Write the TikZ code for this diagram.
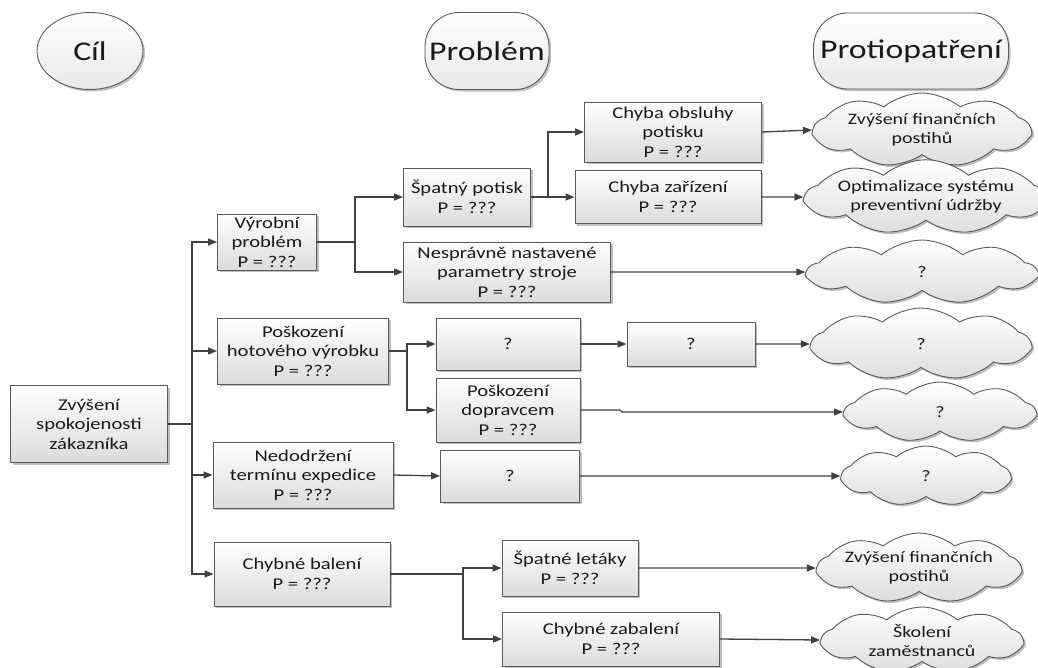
\documentclass[tikz,border=0pt]{standalone}
\usepackage{fontspec}
\setmainfont{Carlito}[FakeStretch=1.25]
\usetikzlibrary{shapes.geometric,shapes.symbols,shadows,arrows.meta}
\definecolor{rim}{HTML}{5A5A5A}
\definecolor{wirec}{HTML}{404040}
\definecolor{ink}{HTML}{1A1A1A}
\tikzset{
  shade/.style={drop shadow={shadow xshift=2pt,shadow yshift=-2pt,opacity=0.25,fill=black}},
  box/.style={draw=rim,line width=0.9pt,top color=white,bottom color=black!14,
    align=center,text=ink,inner sep=1pt,shade,
    font=\fontsize{16.5}{19.5}\selectfont},
  head/.style={draw=rim,line width=0.9pt,top color=white,bottom color=black!9,
    text=ink,inner sep=0pt,shade,font=\fontsize{27}{30}\selectfont},
  bubble/.style={cloud,cloud puffs=9,cloud puff arc=80,cloud ignores aspect,
    draw=rim,line width=0.9pt,top color=white,bottom color=black!13,
    align=center,text=ink,inner sep=0pt,shade,
    font=\fontsize{16}{19}\selectfont},
  wire/.style={draw=wirec,line width=1.3pt},
  arr/.style={wire,-{Triangle[length=9pt,width=7pt]}}
}
\begin{document}
\begin{tikzpicture}[x=1pt,y=-1pt]
\useasboundingbox (0,0) rectangle (1038,667);

% column headings
\node[head,ellipse,minimum width=106,minimum height=77] (hcil) at (90,51) {Cíl};
\node[head,rectangle,rounded corners=34pt,minimum width=124,minimum height=77] (hprob) at (487,51) {Problém};
\node[head,rectangle,rounded corners=34pt,minimum width=195,minimum height=76] (hprot) at (911,51) {Protiopatření};

% goal
\node[box,minimum width=157,minimum height=77] (root) at (89,424) {Zvýšení\\spokojenosti\\zákazníka};

% first level problems
\node[box,minimum width=99,minimum height=56] (vyr) at (267,242) {Výrobní\\problém\\P = ???};
\node[box,minimum width=171,minimum height=66] (pos) at (303,351) {Poškození\\hotového výrobku\\P = ???};
\node[box,minimum width=180,minimum height=66] (ned) at (303,475) {Nedodržení\\termínu expedice\\P = ???};
\node[box,minimum width=176,minimum height=64] (bal) at (302,574) {Chybné balení\\P = ???};

% second level
\node[box,minimum width=127,minimum height=58] (spot) at (467,197) {Špatný potisk\\P = ???};
\node[box,minimum width=207,minimum height=60] (nesp) at (507,272) {Nesprávně nastavené\\parametry stroje\\P = ???};
\node[box,minimum width=144,minimum height=52] (q1) at (508,344) {?};
\node[box,minimum width=144,minimum height=64] (dop) at (508,410) {Poškození\\dopravcem\\P = ???};
\node[box,minimum width=139,minimum height=52] (q3) at (510,476) {?};
\node[box,minimum width=136,minimum height=56] (let) at (570,568) {Špatné letáky\\P = ???};
\node[box,minimum width=217,minimum height=54] (zab) at (611,639) {Chybné zabalení\\P = ???};

% third level
\node[box,minimum width=177,minimum height=60] (obs) at (673,132) {Chyba obsluhy\\potisku\\P = ???};
\node[box,minimum width=186,minimum height=53] (zar) at (668,197) {Chyba zařízení\\P = ???};
\node[box,minimum width=128,minimum height=44] (q2) at (691,344) {?};

% countermeasures
\node[bubble,minimum width=216,minimum height=74] (c1) at (922,130) {Zvýšení finančních\\postihů};
\node[bubble,minimum width=222,minimum height=72] (c2) at (926,197) {Optimalizace systému\\preventivní údržby};
\node[bubble,minimum width=228,minimum height=64] (c3) at (922,272) {?};
\node[bubble,minimum width=218,minimum height=72] (c4) at (921,344) {?};
\node[bubble,minimum width=190,minimum height=60] (c5) at (940,412) {?};
\node[bubble,minimum width=168,minimum height=60] (c6) at (926,476) {?};
\node[bubble,minimum width=188,minimum height=70] (c7) at (919,568) {Zvýšení finančních\\postihů};
\node[bubble,minimum width=200,minimum height=66] (c8) at (922,640) {Školení\\zaměstnanců};

% branching points
\coordinate (j0) at (192,424);
\coordinate (j1) at (355,242);
\coordinate (j2) at (548,197);
\coordinate (j3) at (407,351);
\coordinate (j4) at (463,574);
\coordinate (kink) at (620,410);
\coordinate (kink2) at (622,412);

% trunk
\draw[wire] (root.east) -- (j0);
\draw[arr] (j0) |- (vyr.west);
\draw[arr] (j0) |- (pos.west);
\draw[arr] (j0) |- (ned.west);
\draw[arr] (j0) |- (bal.west);

% production problem
\draw[wire] (vyr.east) -- (j1);
\draw[arr] (j1) |- (spot.west);
\draw[arr] (j1) |- (nesp.west);
\draw[wire] (spot.east) -- (j2);
\draw[arr] (j2) |- (obs.west);
\draw[arr] (j2) -- (zar.west);
\draw[arr] (obs.east) -- (c1.west);
\draw[arr] (zar.east) -- (c2.west);
\draw[arr] (nesp.east) -- (c3.west);

% damaged product
\draw[wire] (pos.east) -- (j3);
\draw[arr] (j3) |- (q1.west);
\draw[arr] (j3) |- (dop.west);
\draw[arr] (q1.east) -- (q2.west);
\draw[arr] (q2.east) -- (c4.west);
\draw[arr] (dop.east) -- (kink) -- (kink2) -- (c5.west);

% missed dispatch
\draw[arr] (ned.east) -- (q3.west);
\draw[arr] (q3.east) -- (c6.west);

% packaging
\draw[wire] (bal.east) -- (j4);
\draw[arr] (j4) |- (let.west);
\draw[arr] (j4) |- (zab.west);
\draw[arr] (let.east) -- (c7.west);
\draw[arr] (zab.east) -- (c8.west);
\end{tikzpicture}
\end{document}
